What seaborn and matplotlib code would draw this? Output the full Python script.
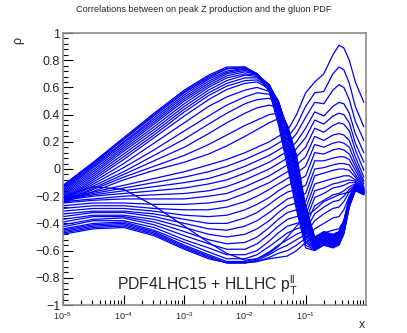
import numpy as np
import pandas as pd
import seaborn as sns
import matplotlib.pyplot as plt
from matplotlib.ticker import FuncFormatter, MultipleLocator, LogLocator

log_x = [-5.0, -4.5, -4.0, -3.5, -3.0, -2.6, -2.3, -2.0, -1.8, -1.6, -1.45,
         -1.3, -1.15, -1.0, -0.85, -0.7, -0.55, -0.45, -0.37, -0.28, -0.18, -0.04]

# curves that peak near x~1e-2 and fall into the band at x~0.1
band_curves = [
    [-0.12, 0.05, 0.23, 0.41, 0.58, 0.69, 0.75, 0.75, 0.69, 0.57, 0.33, 0.02, -0.30, -0.58, -0.60, -0.56, -0.58, -0.56, -0.48, -0.28, -0.16, -0.19],
    [-0.125, 0.045, 0.22, 0.40, 0.57, 0.68, 0.74, 0.75, 0.70, 0.58, 0.36, 0.05, -0.27, -0.56, -0.594, -0.554, -0.574, -0.554, -0.474, -0.276, -0.158, -0.187],
    [-0.13, 0.04, 0.215, 0.39, 0.56, 0.67, 0.735, 0.745, 0.70, 0.59, 0.38, 0.08, -0.24, -0.54, -0.588, -0.548, -0.568, -0.548, -0.468, -0.272, -0.155, -0.184],
    [-0.14, 0.03, 0.20, 0.375, 0.545, 0.66, 0.72, 0.74, 0.70, 0.60, 0.40, 0.11, -0.21, -0.53, -0.582, -0.542, -0.562, -0.542, -0.462, -0.268, -0.153, -0.181],
    [-0.15, 0.02, 0.19, 0.36, 0.53, 0.645, 0.71, 0.735, 0.70, 0.61, 0.42, 0.14, -0.18, -0.51, -0.576, -0.536, -0.556, -0.536, -0.456, -0.264, -0.150, -0.178],
    [-0.16, 0.01, 0.175, 0.345, 0.515, 0.63, 0.70, 0.725, 0.70, 0.61, 0.44, 0.17, -0.15, -0.49, -0.570, -0.530, -0.550, -0.530, -0.450, -0.260, -0.148, -0.175],
    [-0.17, -0.005, 0.16, 0.33, 0.50, 0.615, 0.685, 0.715, 0.695, 0.62, 0.46, 0.20, -0.12, -0.47, -0.565, -0.525, -0.545, -0.525, -0.445, -0.256, -0.146, -0.172],
    [-0.18, -0.02, 0.145, 0.31, 0.48, 0.60, 0.67, 0.70, 0.69, 0.62, 0.48, 0.23, -0.09, -0.45, -0.559, -0.519, -0.539, -0.519, -0.439, -0.252, -0.144, -0.169],
    [-0.19, -0.035, 0.13, 0.29, 0.46, 0.58, 0.65, 0.69, 0.68, 0.62, 0.49, 0.25, -0.06, -0.43, -0.553, -0.513, -0.533, -0.513, -0.433, -0.248, -0.141, -0.166],
    [-0.20, -0.05, 0.11, 0.27, 0.44, 0.56, 0.63, 0.67, 0.67, 0.61, 0.50, 0.27, -0.04, -0.41, -0.547, -0.507, -0.527, -0.507, -0.427, -0.244, -0.139, -0.163],
    [-0.21, -0.065, 0.09, 0.25, 0.42, 0.54, 0.61, 0.65, 0.655, 0.60, 0.50, 0.28, -0.02, -0.39, -0.541, -0.501, -0.521, -0.501, -0.421, -0.240, -0.136, -0.160],
    [-0.22, -0.08, 0.07, 0.23, 0.39, 0.51, 0.585, 0.63, 0.64, 0.59, 0.50, 0.29, 0.00, -0.37, -0.535, -0.495, -0.515, -0.495, -0.415, -0.236, -0.134, -0.157],
    [-0.225, -0.095, 0.04, 0.19, 0.34, 0.46, 0.53, 0.58, 0.60, 0.57, 0.49, 0.30, 0.01, -0.35, -0.529, -0.489, -0.509, -0.489, -0.409, -0.232, -0.131, -0.154],
    [-0.23, -0.11, 0.01, 0.14, 0.28, 0.39, 0.47, 0.53, 0.56, 0.55, 0.48, 0.31, 0.03, -0.33, -0.523, -0.483, -0.503, -0.483, -0.403, -0.228, -0.129, -0.151],
    [-0.235, -0.125, -0.02, 0.10, 0.22, 0.33, 0.41, 0.48, 0.51, 0.52, 0.47, 0.31, 0.05, -0.31, -0.517, -0.477, -0.497, -0.477, -0.397, -0.224, -0.126, -0.148],
    [-0.24, -0.14, -0.04, 0.06, 0.16, 0.26, 0.34, 0.41, 0.45, 0.47, 0.45, 0.31, 0.07, -0.30, -0.511, -0.471, -0.491, -0.471, -0.391, -0.220, -0.124, -0.145],
    [-0.245, -0.15, -0.06, 0.02, 0.10, 0.18, 0.25, 0.32, 0.36, 0.40, 0.41, 0.32, 0.08, -0.29, -0.505, -0.465, -0.485, -0.465, -0.385, -0.216, -0.122, -0.142],
    [-0.25, -0.165, -0.08, -0.01, 0.05, 0.11, 0.17, 0.24, 0.29, 0.34, 0.37, 0.32, 0.10, -0.27, -0.500, -0.460, -0.480, -0.460, -0.380, -0.212, -0.120, -0.140],
]

# curves that stay low, cross the band near x~0.05 and fan out at large x
fan_curves = [
    [-0.215, -0.17, -0.12, -0.07, -0.02, 0.03, 0.07, 0.12, 0.16, 0.20, 0.24, 0.28, 0.40, 0.56, 0.64, 0.70, 0.84, 0.91, 0.89, 0.80, 0.64, 0.49],
    [-0.22, -0.18, -0.14, -0.10, -0.06, -0.02, 0.02, 0.07, 0.11, 0.15, 0.19, 0.23, 0.32, 0.46, 0.56, 0.57, 0.70, 0.75, 0.73, 0.63, 0.46, 0.31],
    [-0.225, -0.19, -0.16, -0.13, -0.10, -0.07, -0.03, 0.02, 0.06, 0.10, 0.14, 0.18, 0.26, 0.38, 0.49, 0.48, 0.58, 0.62, 0.60, 0.51, 0.35, 0.21],
    [-0.23, -0.20, -0.18, -0.16, -0.14, -0.11, -0.08, -0.03, 0.01, 0.05, 0.09, 0.13, 0.20, 0.30, 0.42, 0.39, 0.46, 0.49, 0.48, 0.41, 0.26, 0.12],
    [-0.24, -0.22, -0.20, -0.19, -0.18, -0.16, -0.13, -0.08, -0.04, 0.00, 0.04, 0.08, 0.15, 0.23, 0.36, 0.33, 0.39, 0.41, 0.40, 0.34, 0.19, 0.05],
    [-0.25, -0.23, -0.22, -0.22, -0.22, -0.20, -0.18, -0.13, -0.09, -0.05, -0.01, 0.03, 0.09, 0.16, 0.30, 0.27, 0.32, 0.34, 0.33, 0.28, 0.14, -0.01],
    [-0.27, -0.25, -0.25, -0.26, -0.26, -0.25, -0.23, -0.18, -0.14, -0.10, -0.06, -0.02, 0.03, 0.09, 0.24, 0.21, 0.25, 0.26, 0.25, 0.21, 0.09, -0.06],
    [-0.29, -0.27, -0.27, -0.29, -0.30, -0.30, -0.28, -0.24, -0.20, -0.15, -0.11, -0.07, -0.03, 0.02, 0.18, 0.16, 0.19, 0.20, 0.19, 0.16, 0.05, -0.09],
    [-0.31, -0.29, -0.29, -0.31, -0.34, -0.35, -0.34, -0.30, -0.26, -0.21, -0.16, -0.12, -0.09, -0.05, 0.12, 0.11, 0.14, 0.15, 0.14, 0.11, 0.02, -0.11],
    [-0.33, -0.31, -0.31, -0.33, -0.37, -0.40, -0.40, -0.36, -0.32, -0.26, -0.21, -0.17, -0.15, -0.12, 0.06, 0.06, 0.08, 0.09, 0.09, 0.07, -0.01, -0.13],
    [-0.35, -0.32, -0.32, -0.35, -0.40, -0.44, -0.45, -0.42, -0.38, -0.32, -0.27, -0.22, -0.20, -0.18, 0.00, 0.01, 0.03, 0.04, 0.04, 0.03, -0.04, -0.14],
    [-0.37, -0.34, -0.34, -0.37, -0.43, -0.48, -0.50, -0.48, -0.44, -0.38, -0.32, -0.27, -0.25, -0.24, -0.05, -0.03, -0.01, 0.00, 0.00, -0.01, -0.06, -0.15],
    [-0.39, -0.35, -0.35, -0.39, -0.46, -0.52, -0.55, -0.54, -0.50, -0.43, -0.37, -0.32, -0.30, -0.29, -0.11, -0.09, -0.07, -0.06, -0.05, -0.05, -0.08, -0.16],
    [-0.41, -0.37, -0.36, -0.41, -0.49, -0.55, -0.59, -0.59, -0.55, -0.48, -0.42, -0.37, -0.35, -0.34, -0.16, -0.14, -0.11, -0.10, -0.09, -0.08, -0.09, -0.16],
    [-0.425, -0.38, -0.38, -0.43, -0.52, -0.58, -0.63, -0.63, -0.60, -0.53, -0.47, -0.42, -0.40, -0.38, -0.21, -0.18, -0.14, -0.13, -0.12, -0.10, -0.10, -0.17],
    [-0.44, -0.40, -0.39, -0.45, -0.54, -0.61, -0.66, -0.66, -0.63, -0.57, -0.52, -0.47, -0.44, -0.42, -0.27, -0.23, -0.19, -0.18, -0.16, -0.13, -0.11, -0.17],
    [-0.45, -0.41, -0.40, -0.46, -0.56, -0.63, -0.68, -0.68, -0.66, -0.61, -0.56, -0.52, -0.48, -0.45, -0.33, -0.28, -0.24, -0.23, -0.20, -0.15, -0.12, -0.17],
    [-0.46, -0.42, -0.41, -0.47, -0.57, -0.64, -0.69, -0.69, -0.67, -0.63, -0.59, -0.56, -0.52, -0.48, -0.38, -0.33, -0.29, -0.28, -0.24, -0.17, -0.12, -0.18],
    [-0.47, -0.43, -0.42, -0.48, -0.58, -0.65, -0.69, -0.69, -0.68, -0.65, -0.62, -0.60, -0.56, -0.51, -0.44, -0.40, -0.36, -0.35, -0.30, -0.20, -0.13, -0.18],
    [-0.48, -0.44, -0.43, -0.49, -0.59, -0.66, -0.69, -0.69, -0.68, -0.66, -0.65, -0.64, -0.60, -0.54, -0.50, -0.47, -0.45, -0.44, -0.38, -0.22, -0.14, -0.18],
]

# one curve that cuts diagonally through the others
cross_curve = [-0.20, -0.13, -0.15, -0.27, -0.42, -0.54, -0.62, -0.67, -0.66, -0.62, -0.57,
               -0.50, -0.42, -0.35, -0.30, -0.24, -0.21, -0.19, -0.18, -0.17, -0.15, -0.16]

title = "Correlations between on peak Z production and the gluon PDF"
label = r"PDF4LHC15 + HLLHC $\mathregular{p_{T}^{ll}}$"

all_curves = band_curves + fan_curves + [cross_curve]
rows = []
for i, c in enumerate(all_curves):
    for lx, r in zip(log_x, c):
        rows.append({"x": 10 ** lx, "rho": r, "curve": i})
df = pd.DataFrame(rows)

sns.set_style("ticks")
plt.rcParams["font.family"] = ["Liberation Sans", "DejaVu Sans"]
plt.rcParams["mathtext.fontset"] = "custom"
plt.rcParams["mathtext.rm"] = "Liberation Sans"
plt.rcParams["mathtext.it"] = "Liberation Sans"
plt.rcParams["axes.unicode_minus"] = True

fig = plt.figure(figsize=(4.07, 3.33), dpi=100)
ax = fig.add_axes([63 / 407, 28 / 333, 303 / 407, 272 / 333])

sns.lineplot(data=df, x="x", y="rho", units="curve", estimator=None,
             color="#0000ff", lw=0.9, sort=False, ax=ax, legend=False)

ax.set_xscale("log")
ax.set_xlim(1e-5, 0.99)
ax.set_ylim(-1, 1)
ax.set_xlabel("")
ax.set_ylabel("")

ax.yaxis.set_major_locator(MultipleLocator(0.2))
ax.yaxis.set_minor_locator(MultipleLocator(0.04))
ax.yaxis.set_major_formatter(FuncFormatter(
    lambda v, p: ("%g" % round(v, 2)).replace("-", "\u2212")))
ax.xaxis.set_major_locator(LogLocator(base=10, numticks=10))
ax.xaxis.set_minor_locator(LogLocator(base=10, subs=np.arange(2, 10), numticks=20))
ax.xaxis.set_major_formatter(FuncFormatter(
    lambda v, p: r"$\mathregular{10^{%d}}$" % round(np.log10(v)) if v < 0.9 else ""))

ax.tick_params(axis="both", which="both", direction="in", color="black")
ax.tick_params(axis="y", which="major", length=7, width=0.8, labelsize=9, pad=2)
ax.tick_params(axis="y", which="minor", length=3.5, width=0.8)
ax.tick_params(axis="x", which="major", length=7, width=0.8, labelsize=6.5, pad=4)
ax.tick_params(axis="x", which="minor", length=3.5, width=0.8)
for s in ax.spines.values():
    s.set_color("#8c8c8c")
    s.set_linewidth(1.2)

fig.text(0.5, 1 - 10 / 333, title, ha="center", va="center", fontsize=6.6)
fig.text(18 / 407, 1 - 40 / 333, "\u03c1", rotation=90, ha="center", va="center", fontsize=9)
fig.text(362 / 407, 1 - 325 / 333, "x", ha="center", va="center", fontsize=9)
ax.text(0.178, 0.052, label, transform=ax.transAxes, fontsize=11.3, ha="left", va="baseline")

fig.savefig("out.png", dpi=100)
